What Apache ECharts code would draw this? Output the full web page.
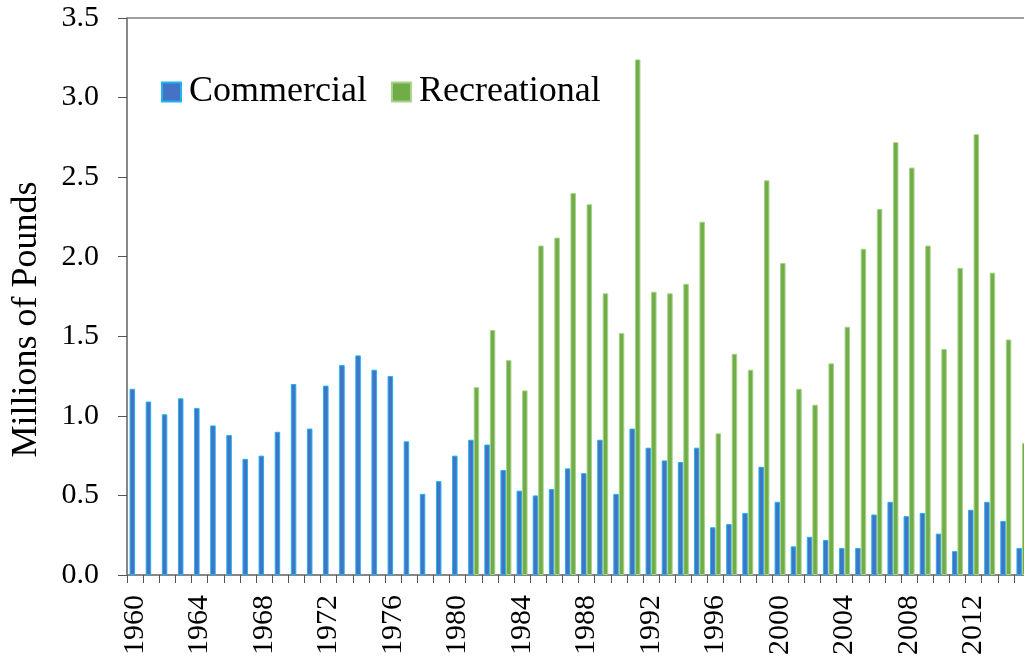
<!DOCTYPE html>
<html>
<head>
<meta charset="utf-8">
<script src="https://cdn.jsdelivr.net/npm/echarts@6/dist/echarts.min.js"></script>
<style>
html,body{margin:0;padding:0;background:#fff;}
#chart{width:1024px;height:664px;}
</style>
</head>
<body>
<div id="chart"></div>
<script>
var years = [];
for (var y = 1960; y <= 2015; y++) years.push(String(y));

var commercial = [1.17, 1.09, 1.01, 1.11, 1.05, 0.94, 0.88, 0.73, 0.75, 0.90,
  1.20, 0.92, 1.19, 1.32, 1.38, 1.29, 1.25, 0.84, 0.51, 0.59,
  0.75, 0.85, 0.82, 0.66, 0.53, 0.50, 0.54, 0.67, 0.64, 0.85,
  0.51, 0.92, 0.80, 0.72, 0.71, 0.80, 0.30, 0.32, 0.39, 0.68,
  0.46, 0.18, 0.24, 0.22, 0.17, 0.17, 0.38, 0.46, 0.37, 0.39,
  0.26, 0.15, 0.41, 0.46, 0.34, 0.17];

var recreational = ['-', '-', '-', '-', '-', '-', '-', '-', '-', '-',
  '-', '-', '-', '-', '-', '-', '-', '-', '-', '-',
  '-', 1.18, 1.54, 1.35, 1.16, 2.07, 2.12, 2.40, 2.33, 1.77,
  1.52, 3.24, 1.78, 1.77, 1.83, 2.22, 0.89, 1.39, 1.29, 2.48,
  1.96, 1.17, 1.07, 1.33, 1.56, 2.05, 2.30, 2.72, 2.56, 2.07,
  1.42, 1.93, 2.77, 1.90, 1.48, 0.83];

var serif = "'Liberation Serif', 'Times New Roman', serif";
var chart = echarts.init(document.getElementById('chart'), null, {renderer: 'canvas'});
chart.setOption({
  animation: false,
  backgroundColor: '#ffffff',
  textStyle: {fontFamily: serif, color: '#000'},
  grid: {
    left: 127, top: 18, width: 903, bottom: 89,
    outerBoundsMode: 'none', containLabel: false,
    show: true, borderColor: '#808080', borderWidth: 1.5, backgroundColor: 'transparent'
  },
  legend: {
    left: 161, top: 72, padding: 0,
    itemWidth: 19, itemHeight: 19, itemGap: 24,
    icon: 'rect',
    textStyle: {fontFamily: serif, fontSize: 36, color: '#000', padding: [0, 0, 0, 3], lineHeight: 40},
    data: ['Commercial', 'Recreational']
  },
  xAxis: {
    type: 'category',
    data: years,
    axisLine: {lineStyle: {color: '#808080', width: 1.5}},
    axisTick: {show: true, alignWithLabel: false, length: 8, interval: 0, lineStyle: {color: '#555'}},
    axisLabel: {
      interval: 3, rotate: 90, fontSize: 30, fontFamily: serif, color: '#000', margin: 20
    }
  },
  yAxis: {
    type: 'value',
    min: 0, max: 3.5, interval: 0.5,
    name: 'Millions of Pounds',
    nameLocation: 'middle',
    nameGap: 82,
    nameRotate: 90,
    nameTextStyle: {fontFamily: serif, fontSize: 36, color: '#000', padding: [0, 46, 0, 0]},
    axisLine: {show: true, lineStyle: {color: '#808080', width: 1.5}},
    axisTick: {show: true, inside: false, length: 9, lineStyle: {color: '#555'}},
    splitLine: {show: false},
    axisLabel: {
      fontSize: 30, fontFamily: serif, color: '#000', margin: 28,
      formatter: function (v) { return v.toFixed(1); }
    }
  },
  series: [
    {
      name: 'Commercial', type: 'bar', data: commercial,
      barWidth: 5.5, barGap: '0%',
      itemStyle: {color: '#4472C4', borderColor: '#1EB4F0', borderWidth: 1}
    },
    {
      name: 'Recreational', type: 'bar', data: recreational,
      barWidth: 5.5, barGap: '0%',
      itemStyle: {color: '#70AD47', borderColor: '#A8D28C', borderWidth: 1}
    }
  ]
});
</script>
</body>
</html>
